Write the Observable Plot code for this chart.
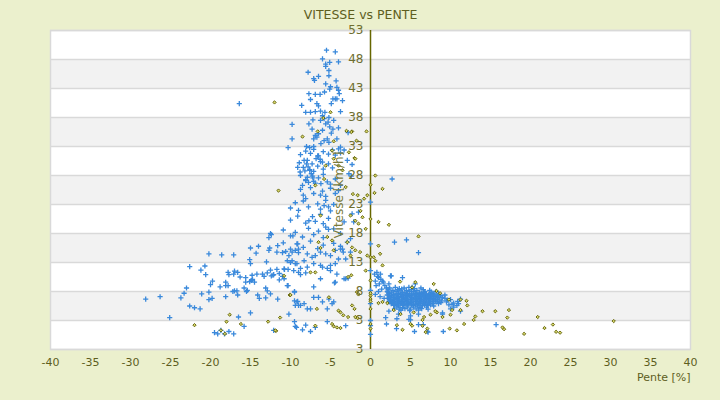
<!DOCTYPE html>
<html>
<head>
<meta charset="utf-8">
<script src="https://cdn.jsdelivr.net/npm/d3@7"></script>
<script src="https://cdn.jsdelivr.net/npm/@observablehq/plot@0.6"></script>
<style>
  html, body { margin: 0; padding: 0; background: #ebf0cd; }
  #chart svg { display: block; }
</style>
</head>
<body>
<div id="chart"></div>
<script>
const xTicks = [-40, -35, -30, -25, -20, -15, -10, -5, 0, 5, 10, 15, 20, 25, 30, 35, 40];
const yTicks = [-2, 3, 8, 13, 18, 23, 28, 33, 38, 43, 48, 53];
const yTickLabels = ["3", "3", "8", "13", "18", "23", "28", "33", "38", "43", "48", "53"];
const bandLo = [3, 13, 23, 33, 43];
const bandHi = [8, 18, 28, 38, 48];

// Blue series (pente %, vitesse km/h)
const bluePts = [
  [-5.5,49.6],[-4.4,49.3],[-6.0,48.1],[-5.6,47.2],[-5.6,46.8],[-5.1,47.5],[-4.0,47.6],[-5.2,46.1],[-7.8,45.8],[-7.1,44.7],
  [-7.0,44.4],[-6.5,45.1],[-5.2,45.2],[-4.3,44.3],[-5.0,43.3],[-5.1,42.9],[-5.6,43.8],[-5.75,42.4],[-4.2,43.2],[-4.0,42.7],
  [-3.9,42.1],[-7.7,42.1],[-6.9,42.0],[-6.3,42.0],[-7.5,41.1],[-6.7,40.4],[-6.5,40.0],[-8.6,40.1],[-4.9,40.4],[-4.7,41.2],
  [-4.4,41.2],[-4.2,41.2],[-3.5,40.9],[-8.1,38.9],[-7.5,38.9],[-6.9,39.0],[-6.25,39.1],[-5.7,38.9],[-3.75,39.0],[-9.8,36.8],
  [-7.2,37.6],[-7.7,36.9],[-6.25,37.5],[-5.8,37.8],[-5.6,36.9],[-5.3,37.2],[-5.1,36.4],[-4.6,37.5],[-4.7,36.0],[-4.0,36.2],
  [-2.8,35.4],[-6.9,34.9],[-7.1,34.3],[-6.7,34.6],[-6.5,35.2],[-5.8,34.0],[-5.4,34.3],[-5.2,33.7],[-4.2,34.3],[-3.75,32.9],
  [-9.8,34.3],[-10.3,32.8],[-8.0,33.0],[-7.6,32.8],[-7.1,33.0],[-16.4,40.4],[-6.0,38.3],[-5.2,38.0],[-7.3,36.0],[-6.0,35.8],
  [-4.9,35.3],[-6.2,33.5],[-9.1,29.4],[-8.8,28.6],[-8.75,28.0],[-8.1,27.1],[-7.9,27.7],
  [-8.75,31.6],[-8.1,32.2],[-7.5,31.8],[-7.1,32.5],[-6.5,31.4],[-5.9,32.1],[-5.25,31.7],[-4.75,32.4],[-4.4,31.5],[-3.75,31.9],
  [-8.9,30.2],[-8.4,29.4],[-7.9,30.6],[-7.6,29.0],[-7.3,30.0],[-7.1,28.7],[-6.6,29.6],[-6.25,30.4],[-5.9,29.1],[-5.25,30.0],
  [-4.75,29.3],[-8.2,28.8],[-6.8,30.9],
  [-8.1,27.3],[-7.75,26.8],[-7.25,27.9],[-7.1,27.0],[-6.5,27.6],[-5.9,28.2],[-5.4,26.9],[-4.4,27.4],[-6.2,26.6],
  [-8.75,25.6],[-8.4,24.6],[-7.5,25.9],[-7.1,24.9],[-6.0,25.3],[-5.6,24.4],[-5.0,25.8],[-4.4,24.9],[-4.0,25.4],
  [-10.0,22.4],[-9.4,23.3],[-9.0,22.0],[-8.4,23.6],[-7.75,22.6],[-6.6,23.1],[-6.25,22.2],[-5.6,23.7],[-5.25,22.6],[-4.6,23.0],
  [-10.0,20.3],[-9.1,21.0],[-8.1,19.8],[-7.25,20.9],[-6.9,20.1],[-6.25,21.3],[-5.9,19.7],[-5.25,20.6],
  [-12.5,18.0],[-10.9,18.6],[-10.0,17.6],[-9.4,18.2],[-8.5,17.4],[-7.75,18.9],[-7.1,17.8],[-6.5,18.4],[-5.9,17.3],[-5.25,18.7],
  [-11.6,15.9],[-10.9,16.4],[-10.0,15.3],[-9.1,16.2],[-8.4,15.6],[-7.5,16.7],[-6.6,15.4],[-5.9,16.0],[-4.6,16.3],[-3.75,15.8],
  [-2.9,16.5],
  [-8.3,30.6],[-8.0,30.0],[-7.8,29.5],[-7.6,28.9],[-7.4,28.3],[-7.2,27.6],[-6.6,31.4],[-6.3,30.8],[-6.0,30.3],
  [-2.7,28.3],[-2.4,27.9],[-4.0,32.6],[-2.9,30.6],[-2.3,29.9],[-3.3,32.4],
  [-8.5,26.3],[-6.9,26.7],[-6.25,24.6],[-5.0,26.5],[-3.75,26.3],[-8.1,24.0],[-5.8,22.8],[-5.0,21.9],[-7.7,20.2],[-5.6,19.1],
  [-4.6,18.8],[-3.3,20.0],[-2.3,21.4],[-1.5,21.7],[-2.1,20.0],[-3.75,18.0],[-2.5,17.1],[-3.5,15.3],
  [-11.7,14.8],[-11.0,14.7],[-10.6,14.9],[-10.2,14.2],[-9.8,14.8],[-9.4,15.1],[-9.0,15.3],[-7.9,14.5],[-7.3,13.9],[-6.9,14.2],
  [-6.25,14.8],[-5.6,14.5],[-5.0,14.2],[-4.4,15.1],[-3.75,15.3],[-3.4,14.8],[-3.1,13.6],[-2.5,14.8],
  [-10.4,13.3],[-10.0,13.0],[-9.2,12.8],[-8.3,13.3],[-7.1,12.8],[-6.25,12.5],[-5.0,12.5],[-4.4,12.8],[-4.0,13.6],
  [-11.7,11.8],[-10.8,11.9],[-9.6,11.6],[-8.75,12.0],[-7.9,12.2],[-6.0,12.2],[-5.4,12.0],[-5.0,11.6],[-4.2,11.0],[-3.1,10.2],
  [-12.2,10.8],[-10.8,10.2],[-10.4,9.0],[-8.75,10.9],[-8.1,11.2],[-6.25,10.2],[-4.4,9.6],[-3.3,10.2],[-2.8,10.3],
  [-7.1,8.8],[-4.5,9.5],[-11.6,6.7],[-9.5,7.9],[-9.1,6.3],[-9.4,5.6],[-8.75,5.6],[-7.9,5.0],[-7.5,5.0],[-7.1,7.0],
  [-6.0,6.2],[-4.6,6.2],[-4.8,5.9],[-10.2,4.1],[-5.4,2.8],[-3.1,2.1],[-9.4,2.0],[-8.5,1.4],[-8.1,2.2],[-7.5,1.1],[-12.1,1.3],
  [-8.3,5.9],[-6.9,1.8],[-5.4,5.0],[-5.2,6.7],[-6.5,7.0],
  [-28.1,6.7],[-26.3,7.1],[-25.1,3.5],[-23.7,6.9],[-23.3,7.7],[-23.0,8.6],[-22.6,12.3],[-22.6,5.5],[-22.0,5.2],[-21.3,5.0],
  [-21.1,7.6],[-21.2,11.7],[-20.7,12.4],[-20.6,10.9],[-20.2,14.5],[-20.2,7.9],[-20.2,6.6],[-19.8,6.8],[-20.0,9.2],[-19.75,9.8],
  [-19.5,0.9],[-19.1,0.7],[-18.7,1.3],[-18.25,0.7],[-17.7,1.1],[-17.1,0.7],[-18.6,14.3],[-18.8,8.8],[-18.1,9.6],[-18.1,9.0],
  [-17.8,9.0],[-18.1,7.1],[-17.8,11.3],[-17.7,10.9],[-17.1,11.0],[-17.0,11.5],[-16.6,11.3],[-16.3,10.5],[-17.1,14.3],[-17.2,8.0],
  [-17.0,8.1],[-16.7,8.1],[-16.6,7.4],[-16.5,3.6],[-15.8,2.0],[-15.8,8.6],[-15.5,8.0],[-15.4,8.2],[-15.6,10.4],[-15.6,9.6],
  [-15.1,9.7],[-14.9,9.9],[-14.8,10.8],[-14.75,10.1],[-14.5,9.6],[-14.2,11.0],[-15.1,13.5],[-15.0,12.8],[-15.0,15.5],[-14.0,15.8],
  [-14.3,14.6],[-15.0,4.3],[-14.1,7.4],[-13.9,6.8],[-12.9,8.1],[-13.1,8.6],[-13.1,6.9],[-12.5,7.6],[-13.5,11.0],[-13.3,10.6],
  [-12.9,11.2],[-12.4,10.7],[-12.1,10.9],[-11.4,11.1],[-11.0,10.6],[-10.75,11.8],[-10.3,11.8],[-13.0,13.1],[-12.5,11.7],[-12.7,17.3],
  [-12.4,17.8],[-12.6,15.5],[-12.7,15.1],[-9.5,2.8],[-9.25,1.8],[-9.5,6.4],[-9.2,6.2],[-9.0,5.6],[-10.3,9.0],[-9.5,8.0],
  [-9.7,17.6],[-9.2,16.2],[-9.0,14.7],[-9.8,13.3],[-9.4,12.8],[-9.0,11.3],[-11.4,10.0],
  [0,23.4],[0,16.2],[0,11.6],[0,8.2],[0,5.9],[0,3.0],[0,0.6],[0,2.1],
  [2.7,27.4],[3.0,16.5],[4.5,16.9],[6.0,14.7],[4.0,10.4],[2.6,10.7],[8.75,7.3],[11.25,6.7],[10.4,5.3],[9.0,4.3],
  [1.9,3.5],[2.0,2.4],[3.3,3.3],[5.0,3.1],[6.0,2.3],[6.6,2.3],[3.25,1.6],[5.5,1.1],[7.1,1.1],[7.2,1.0],[9.1,1.1],[15.7,2.3],
  [0.8,11.3],[1.25,11.0],[1.0,10.4],[0.6,9.8],[1.5,9.8],[2.5,10.7],[5.6,9.3],[5.2,8.7],[6.7,7.8],[7.5,7.5],
  [7.9,7.2],[7.1,7.2],[10.2,5.8],[10.8,5.6],[2.3,4.6],[3.5,4.1],[5.0,3.8],[4.8,3.2],[6.0,4.1],[9.0,4.1],[10.0,5.0],[11.25,4.6],
  [0.5,11.0],[0.9,10.6],[1.3,10.1],[1.6,9.6],[1.1,9.3],[1.8,9.0],[2.0,8.6],[0.7,9.0],[1.4,8.4],[2.3,9.3],
  [1.0,8.0],[0.6,7.5],[1.2,7.1],[1.7,6.8],[2.2,7.9],
  [2.4,8.6],[3.1,8.7],[3.6,8.5],[4.2,8.6],[4.8,8.7],[5.5,8.5],[6.3,8.6],
  [2.2,8.3],[2.8,8.2],[3.4,8.3],[3.9,8.4],[4.5,8.2],[5.1,8.3],[5.8,8.2],[6.6,8.3],[7.4,8.2],
  [2.1,8.0],[2.6,7.9],[3.2,8.0],[3.7,8.1],[4.3,7.9],[4.9,8.0],[5.4,8.0],[6.1,7.9],[6.8,8.0],[7.6,7.9],[8.2,8.0],
  [2.3,7.7],[2.9,7.6],[3.5,7.7],[4.0,7.8],[4.6,7.7],[5.2,7.6],[5.7,7.7],[6.4,7.7],[7.0,7.6],[7.8,7.7],[8.5,7.6],
  [2.1,7.4],[2.6,7.3],[3.2,7.4],[3.8,7.5],[4.4,7.4],[4.9,7.3],[5.5,7.4],[6.0,7.4],[6.7,7.3],[7.3,7.4],[8.0,7.4],[8.8,7.3],
  [2.4,7.1],[2.9,7.0],[3.5,7.1],[4.1,7.2],[4.6,7.1],[5.2,7.0],[5.8,7.1],[6.3,7.1],[6.9,7.0],[7.6,7.1],[8.3,7.1],[9.0,7.0],
  [2.2,6.8],[2.7,6.7],[3.3,6.8],[3.9,6.9],[4.4,6.8],[5.0,6.7],[5.6,6.8],[6.1,6.8],[6.6,6.7],[7.2,6.8],[7.9,6.8],[8.6,6.7],[9.3,6.8],
  [2.5,6.5],[3.0,6.4],[3.6,6.5],[4.2,6.6],[4.7,6.5],[5.3,6.4],[5.9,6.5],[6.4,6.5],[7.0,6.4],[7.5,6.5],[8.1,6.5],[8.9,6.4],[9.6,6.5],
  [2.3,6.2],[2.8,6.1],[3.4,6.2],[3.9,6.3],[4.5,6.2],[5.1,6.1],[5.7,6.2],[6.2,6.2],[6.8,6.1],[7.4,6.2],[8.2,6.2],[8.8,6.1],
  [2.6,5.9],[3.2,5.8],[3.7,5.9],[4.3,6.0],[4.8,5.9],[5.4,5.8],[6.0,5.9],[6.6,5.9],[7.2,5.8],[7.8,5.9],[8.5,5.9],
  [2.9,5.6],[3.5,5.5],[4.1,5.6],[4.7,5.7],[5.3,5.6],[5.9,5.5],[6.5,5.6],[7.1,5.6],[7.9,5.5],
  [3.3,5.3],[4.0,5.2],[4.6,5.3],[5.4,5.3],[6.2,5.2],[7.0,5.3],
  [2.35,7.55],[2.9,7.5],[3.45,7.55],[4.0,7.6],[4.55,7.5],[5.1,7.55],[5.65,7.5],[6.2,7.55],[6.75,7.5],[7.3,7.55],[7.85,7.5],
  [2.35,7.25],[2.9,7.2],[3.45,7.25],[4.0,7.3],[4.55,7.2],[5.1,7.25],[5.65,7.2],[6.2,7.25],[6.75,7.2],[7.3,7.25],[7.85,7.2],[8.4,7.25],
  [2.35,6.95],[2.9,6.9],[3.45,6.95],[4.0,7.0],[4.55,6.9],[5.1,6.95],[5.65,6.9],[6.2,6.95],[6.75,6.9],[7.3,6.95],[7.85,6.9],[8.4,6.95],
  [2.35,6.65],[2.9,6.6],[3.45,6.65],[4.0,6.7],[4.55,6.6],[5.1,6.65],[5.65,6.6],[6.2,6.65],[6.75,6.6],[7.3,6.65],[7.85,6.6],[8.4,6.65],
  [2.35,6.35],[2.9,6.3],[3.45,6.35],[4.0,6.4],[4.55,6.3],[5.1,6.35],[5.65,6.3],[6.2,6.35],[6.75,6.3],[7.3,6.35],[7.85,6.3],[8.4,6.35],
  [2.6,6.05],[3.0,6.0],[3.45,6.05],[4.0,6.1],[4.55,6.0],[5.1,6.05],[5.65,6.0],[6.2,6.05],[6.75,6.0],[7.3,6.05],[7.85,6.0],
  [3.0,5.75],[3.45,5.7],[4.0,5.8],[4.55,5.75],[5.1,5.7],[5.65,5.75],[6.2,5.7],[6.75,5.75],[7.5,5.7],
  [3.0,5.0],[3.6,4.95],[4.3,5.05],[5.0,4.95],[5.7,5.0],[6.4,5.05],[7.2,4.95],[3.8,4.75],[4.9,4.7],[6.0,4.8],
  [9.5,6.2],[10.0,6.6],[10.4,6.0],[9.8,5.7],[10.9,6.3],[11.0,5.9],[9.3,7.4]
];

// Olive series (pente %, vitesse km/h)
const olivePts = [
  [-12.0,40.6],[-5.0,38.9],[-8.5,34.7],[-6.6,35.6],[-5.9,37.9],[-2.3,35.6],[-0.5,35.6],[-4.6,33.9],[-1.75,34.0],[-2.4,35.5],
  [-2.0,31.0],[-3.0,35.7],
  [-4.8,32.3],[-4.6,30.9],[-4.0,29.7],[-3.5,28.9],[-2.7,32.0],[-1.9,30.9],[-5.6,29.7],[-5.8,27.4],[-6.9,26.3],[-11.5,25.4],
  [-3.1,26.0],[-2.2,24.8],[-1.6,24.6],[-0.8,24.0],[-0.4,24.6],[-1.25,21.9],[-2.5,21.1],[-1.9,20.2],[-1.0,20.8],[-1.5,19.7],
  [-0.6,18.8],[-2.9,16.5],[-2.3,15.6],[-1.3,14.8],[-6.25,21.1],[-5.4,17.4],[-6.5,16.5],[-4.8,16.8],[-4.6,15.1],
  [0.6,28.0],[1.5,25.7],[0.5,25.0],[1.0,20.0],[2.3,19.5],[6.0,17.5],[1.0,15.9],[1.2,14.5],[0.6,13.3],[1.5,12.5],
  [3.7,9.7],[5.6,9.6],[5.2,8.7],[7.9,9.3],[8.25,8.1],[8.7,7.7],[9.8,6.6],[11.25,6.6],[12.0,6.4],[12.1,5.6],
  [11.25,4.8],[13.1,3.7],[12.9,3.1],[14.0,4.6],[15.6,4.6],[17.3,4.8],[17.1,3.5],[16.5,1.8],[16.7,1.5],[19.2,0.7],
  [20.9,3.6],[21.75,1.7],[22.8,2.3],[23.2,1.05],[23.7,0.9],[30.4,2.9],[11.7,2.4],[10.8,1.3],[9.9,1.6],[7.1,1.6],
  [6.9,1.0],[4.0,1.4],[3.3,2.2],[5.0,2.4],[5.2,2.1],[6.5,2.1],[6.5,3.1],[6.7,3.6],[7.5,4.0],[8.3,4.4],
  [9.0,3.6],[10.0,4.0],[10.2,4.8],[8.1,4.6],[5.4,4.4],[3.75,4.1],[2.9,4.8],[1.5,6.2],[2.1,6.0],[1.0,6.0],
  [-22.0,2.2],[-17.6,4.0],[-18.0,2.8],[-18.7,1.3],[-18.2,0.7],[-16.2,2.4],[-12.8,2.8],[-11.3,3.5],[-11.8,1.2],[-10.8,10.7],
  [-10.1,7.4],
  [-6.25,15.5],[-7.5,11.3],[-6.9,11.3],[-2.5,14.2],[-1.9,15.1],[-0.4,14.2],[0.4,13.9],[-0.6,11.6],[-2.4,10.8],[-2.8,10.5],
  [-5.2,7.0],[-1.7,7.9],[-1.5,7.5],[-2.3,5.6],[-2.0,5.0],[-4.0,4.7],[-3.75,4.4],[-3.4,3.9],[-2.8,3.6],[-1.9,3.6],
  [-1.6,3.4],[-10.0,7.4],[-6.7,5.0],[-6.9,2.1],[-4.8,2.4],[-4.6,2.0],[-4.2,1.8],[-3.75,1.7],[-11.9,1.3],
  [0,26.4],[0,20.5],[0,13.9],[0,9.9],[0,7.3],[0,6.7],[0,5.0],[0,2.4],[0,1.6],[0,7.7],[0,6.3]
];

const bands = bandLo.map((lo, i) => ({lo, hi: bandHi[i]}));

const olive = "#5e5e1e";
const chart = Plot.plot({
  width: 720,
  height: 400,
  marginLeft: 50,
  marginRight: 30,
  marginTop: 30,
  marginBottom: 51,
  style: {background: "#ebf0cd", fontFamily: "DejaVu Sans", fontSize: "11px", color: olive},
  x: {domain: [-40, 40], ticks: xTicks, tickSize: 0, tickPadding: 9, tickFormat: d => String(d), label: null},
  y: {domain: [-2, 53], axis: null},
  marks: [
    Plot.frame({fill: "white"}),
    Plot.rect(bands, {y1: "lo", y2: "hi", fill: "#f2f2f2"}),
    Plot.ruleY(yTicks, {stroke: "#d9d9d9", strokeWidth: 1.5}),
    Plot.frame({stroke: "#d9d9d9", strokeWidth: 1.5}),
    Plot.ruleX([0], {stroke: "#666600", strokeWidth: 1.5}),
    Plot.dot(bluePts, {x: d => d[0], y: d => d[1], symbol: "plus", r: 1.8, stroke: "#3a89db", strokeWidth: 1.3}),
    Plot.dot(olivePts, {x: d => d[0], y: d => d[1], symbol: "diamond2", r: 1.5, stroke: "#5c5c00", fill: "#d6d66a", strokeWidth: 0.9}),
    Plot.text(yTicks, {x: 0, y: d => d, text: (d, i) => yTickLabels[i], textAnchor: "end", dx: -7, fontSize: 12, fill: "#6e6e30"}),
    Plot.text(["Vitesse [km/h]"], {frameAnchor: "middle", rotate: -90, dx: -31, dy: 5, fontSize: 12, fill: "#7a7a3a"}),
    Plot.text(["VITESSE vs PENTE"], {frameAnchor: "top", dx: -10, dy: -20, fontSize: 12.5, fill: olive}),
    Plot.text(["Pente [%]"], {frameAnchor: "bottom-right", dy: 31, textAnchor: "end", fontSize: 11, fill: olive})
  ]
});
document.getElementById("chart").appendChild(chart);
</script>
</body>
</html>
